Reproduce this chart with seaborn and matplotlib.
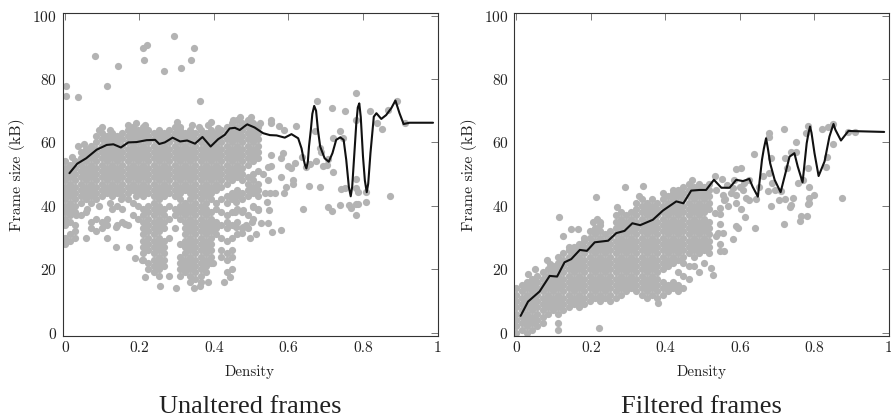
import matplotlib
matplotlib.use('Agg')
import matplotlib.pyplot as plt
import seaborn as sns
import pandas as pd

# densidade de cada coluna de pontos
col_density = [0.000, 0.014, 0.028, 0.042, 0.056, 0.070, 0.084, 0.098, 0.112, 0.126,
               0.140, 0.154, 0.168, 0.182, 0.196, 0.210, 0.224, 0.238, 0.252, 0.266,
               0.280, 0.294, 0.308, 0.322, 0.336, 0.350, 0.364, 0.378, 0.392, 0.406,
               0.420, 0.434, 0.448, 0.462, 0.476, 0.490, 0.504, 0.518]

unaltered_cols = [
    [54,52,50,48,46,44,42,40,38,36,34,30,28],
    [53,51,49,47,45,43,41,39,37,35,31,29],
    [54,52,50,48,46,44,42,40,38,34,32,30],
    [57,55,53,51,49,47,45,43,41,37],
    [58,56,54,52,50,48,46,44,42,38,30],
    [59,57,55,53,51,49,47,45,43,41,35,33],
    [62,60,58,56,54,52,50,48,46,44,42,36,32],
    [63,61,59,57,55,53,51,49,47,45,43,35,33],
    [62,60,58,56,54,52,50,48,46,44,36,34,30],
    [63,61,59,57,55,53,51,49,47,45,43,39],
    [62,60,58,56,54,52,50,48,46,44,40,34],
    [63,61,59,57,55,53,51,49,47,45,43,39,35],
    [64,62,60,58,56,54,52,50,48,46,44,34],
    [65,63,61,59,57,55,53,51,49,47,45,41,37],
    [64,62,60,58,56,54,52,50,48,46,44,40,36],
    [65,63,61,59,57,55,53,51,49,47,45,43,39,37,35,33,31,29,27,25,23],
    [64,62,60,58,56,54,52,50,48,46,44,40,38,36,34,32,30,28,26,22,20],
    [63,61,59,57,55,53,51,49,47,45,43,41,39,37,35,33,31,29,27,25,23,21,19],
    [64,62,60,58,56,54,52,50,48,46,44,42,40,38,36,34,32,30,28,26,24,22,20,18],
    [63,61,59,57,55,53,51,49,47,45,43,39,37,35,33,29,27,25,23,21],
    [64,62,60,58,56,54,52,50,48,46,44,40,36,30],
    [65,63,61,59,57,55,53,51,49,47,45,43,39,37,33],
    [64,62,60,58,56,54,52,50,48,46,44,42,40,38,36,28,24,22,20,18],
    [63,61,59,57,55,53,51,49,47,45,41,39,37,35,33,31,29,27,25,23,21,19],
    [64,62,60,58,56,54,52,50,48,46,44,42,40,38,36,34,32,30,28,26,24,22,20,18,16],
    [63,61,59,57,55,53,51,49,47,45,43,41,39,37,35,33,31,29,27,25,23,21,19,17],
    [64,62,60,58,56,54,52,50,48,46,44,42,40,38,36,34,32,30,28,26,24,22,20,18,16],
    [63,61,59,57,55,53,51,49,47,45,43,41,39,37,35,33,31,29,27,25,23,21,19],
    [64,62,60,58,56,54,52,50,48,46,44,42,38,36,34,32,30,28,26,24,22],
    [63,61,59,57,55,53,51,49,47,45,41,39,35,33,31],
    [64,62,60,58,56,54,52,50,48,46,42,38,34,30,26,24],
    [65,63,61,59,57,55,53,51,49,47,43,41,37,35,33,29,25,23,19],
    [66,64,62,60,58,56,54,52,50,48,44,42,38,34,30,26,24,20],
    [67,65,63,61,59,57,55,53,51,49,45,43,39,35,31],
    [66,64,62,60,58,56,54,52,50,48,44,42,38,33],
    [67,65,63,61,59,57,55,53,49,47,45,43,37,33],
    [66,64,62,60,58,56,54,50,48,46,44,40,36],
    [65,63,61,59,57,55,51,47,45,43,39],
]

unaltered_x = [.002,.002,.036,.081,.114,.142,.210,.221,.211,.267,.292,.311,.338,.345,.362,.392,
               .136,.173,.136,.161,.188,.208,.216,.255,.279,.298,.347,.362,.385,.398,.427,.443,
               .780,.677,.892,.717,.751,.818,.867,.780,.552,.552,.575,.621,.838,.912,.851,.739,
               .670,.587,.523,.719,.746,.684,.688,.635,.706,.675,.693,.703,.657,.720,.554,.554,
               .545,.585,.581,.599,.608,.617,.648,.579,.612,.612,.593,.588,.563,.550,.536,.654,
               .684,.780,.740,.751,.780,.786,.809,.873,.807,.782,.786,.762,.767,.737,.706,.718,
               .639,.780,.541,.548,.527,.545,.557,.581,.501,.487,.478,.512,.496,.474,.460,.456,
               .478,.518,.505,.460,.532,.545,
               .09,.10,.12,.17,.19,.215,.30,.31,.34,.36,.385,.41,.45,.50,.47,.035,.05,.02,
               .03,.06,.09,.12,.15,.17,.19]
unaltered_y = [77.7,74.7,74.2,87.2,77.9,84,89.8,90.8,86,82.6,93.5,83.4,86.1,89.8,73.1,66.4,
               27.1,27.1,33.4,34.4,23.4,22.9,17.6,14.7,18,14,14,14.7,16,22,16,17.6,
               75.7,73.1,72.9,71,69.9,70,70.2,67.1,67,66,65.3,65.2,66.2,66,64.2,63.7,
               63.7,63.9,66,61.3,61.3,58.1,57.1,55.5,54.7,54.2,52.6,52.9,53.2,50.8,56,52.6,
               52.4,56.6,55,52.6,51.8,53.4,52.4,49.2,48.1,46.9,46,43.9,43.9,43.9,43.9,46.3,
               46,48.4,45.3,45.5,45.5,44.5,44.3,43,41.1,40.6,40.6,40.3,39.4,40.3,39.7,38.5,
               39,37.1,41.3,38.7,34.7,34.5,31.8,32.4,35,34,33.4,31.1,30,31.3,33.4,38.2,
               38.7,38.7,39.7,41.3,49.9,48.1,
               64,65,64,65.5,66,65.5,66.5,65,65.5,65,65.5,64.5,67,68,68,59,59.5,55.5,
               37,39,40,41,42,42,43]

filtered_cols = [
    [14,12,10,8,6,4,2,0],
    [15,13,11,9,7,5,3,1],
    [16,14,12,10,8,6,4,2,0],
    [17,15,13,11,9,7,5,3,1],
    [18,16,14,12,10,8,6,4,2],
    [19,17,15,13,11,9,7,5,3],
    [20,18,16,14,12,10,8,6],
    [21,19,17,15,13,11,9,7],
    [24,22,20,18,16,14,12,10,8,6,3,1],
    [25,23,21,19,17,15,13,11,9,7],
    [26,24,22,20,18,16,14,12,10,8],
    [27,25,23,21,19,17,15,13,11,9],
    [28,26,24,22,20,18,16,14,12,10,8],
    [29,27,25,23,21,19,17,15,13,11,9],
    [32,30,28,26,24,22,20,18,16,14,12,10],
    [33,31,29,27,25,23,21,19,17,15,13,11],
    [34,32,30,28,26,24,22,20,18,16,14,12,10],
    [31,29,27,25,23,21,19,17,15,13,11],
    [32,30,28,26,24,22,20,18,16,14,12,10],
    [37,35,33,31,29,27,25,23,21,19,17,15,13,11],
    [38,36,34,32,30,28,26,24,22,20,18,16,14,12],
    [37,35,33,31,29,27,25,23,21,19,17,15,13],
    [38,36,34,32,30,28,26,24,22,20,18,16,14],
    [41,39,37,35,33,31,29,27,25,23,21,19,17,15,13],
    [42,40,38,36,34,32,30,28,26,24,22,20,18,16,14,12],
    [41,39,37,35,33,31,29,27,25,23,21,19,17,15,13,11],
    [42,40,38,36,34,32,30,28,26,24,22,20,18,16,14,12],
    [41,39,37,35,33,31,29,27,25,23,21,19,17,15,13,11],
    [44,42,40,38,36,34,32,30,28,26,24,22,20,16,14,12],
    [43,41,39,37,35,33,31,29,27,25,23,21,15,13],
    [44,42,40,38,36,34,32,30,28,26,24,22,16,14],
    [45,43,41,39,37,35,33,31,29,27,25,23,19,15,13],
    [46,44,42,40,38,36,34,32,30,28,26,24,22,18,14],
    [47,45,43,41,39,37,35,33,31,29,27,25,21,17],
    [46,44,42,40,38,36,34,32,30,28,26,24,21],
    [47,45,43,41,39,37,35,33,31,29,27,25,19],
    [46,44,42,40,38,36,34,32,30,28,26,22],
    [47,45,43,41,39,35,33,31,29,27,25],
]

filtered_x = [.114,.125,.146,.165,.213,.290,.339,.082,.221,.717,.782,.819,.837,.851,.891,.909,
              .679,.677,.777,.751,.851,.737,.749,.638,.721,.684,.834,.726,.782,.831,.590,.603,
              .661,.679,.755,.770,.686,.786,.675,.693,.710,.652,.798,.873,.786,.706,.720,.743,
              .684,.737,.735,.782,.786,.764,.780,.760,.718,.640,.614,.604,.568,.545,.532,.547,
              .547,.590,.594,.581,.554,.541,.536,.545,.558,.547,.521,.527,.532,.551,.585,.612,
              .625,.581,.554,.590,.617,.643,.608,.558,.590,.625,.565,.575,.600,.535,.560,
              .205,.215,.225,.27,.33,.42,.47,.03,.05,.09,.14,.18,.38]
filtered_y = [36.4,30.6,32.6,32.6,42.9,45.9,46.4,22.9,1.4,64.3,65.2,64.1,65,65.8,63.4,63.4,
              62.9,61.8,62.9,60.2,59.4,57.1,57.1,56.4,55.1,55,55.3,51.8,51.8,52.4,51.5,52,
              49.5,50.3,47.3,48.2,47.1,46,44.8,45,44.8,45.9,43.4,42.4,42.6,41.9,42.1,42.4,
              39.8,40.3,39.5,40.5,40.8,36.9,36.8,35.2,34.2,33,36.6,38.9,39.8,39.2,37.6,37.3,
              34.3,33.6,33.1,29.6,31.3,31.3,30.5,28,25.6,25.6,20.3,18.2,49.4,48.5,48.2,47.1,
              48.2,45.5,43.4,43.4,42.4,42.2,45,41.9,40.8,41.9,46.5,44,46,45,42,
              35,36,35,39.5,43,45,48,18.5,20,21.5,27,30,9.5]

unaltered_line_x = [.012,.033,.057,.085,.112,.13,.15,.17,.192,.219,.242,.253,.268,.289,.309,.328,
                    .349,.369,.391,.411,.429,.442,.456,.469,.489,.509,.532,.55,.568,.59,.608,.626,
                    .635,.641,.644,.648,.652,.655,.660,.664,.669,.674,.679,.685,.697,.708,.718,.728,.739,.748,.755,
                    .762,.767,.771,.778,.782,.786,.790,.794,.80,.805,.810,.814,.82,.829,.836,.849,.862,.876,.887,.898,.909,.925,.988]
unaltered_line_y = [50.3,53.3,55,57.7,59.2,59.4,58.4,60,60.1,60.7,60.8,59.5,60,61.5,60.3,60.6,
                    59.6,61.7,58.7,61,62.4,64.4,64.6,63.9,65.7,64.7,62.9,62.3,62.2,61.5,62.6,61.3,
                    58.1,54.5,53,51.8,54,58.7,64,69,71.5,70,64,58.7,55,53.9,56.6,60.8,61.6,60.8,54.5,
                    46,43,46,58.7,66,71,72.3,68,55.5,48,44.3,47,56.6,68.1,69.2,67.4,68.6,70.8,73.2,69.2,65.8,66.2,66.2]

filtered_line_x = [.011,.031,.062,.089,.109,.129,.147,.170,.189,.210,.246,.268,.290,.311,.332,.366,
                   .393,.429,.448,.469,.491,.509,.530,.55,.572,.59,.608,.625,.634,.648,.659,.664,.67,.675,
                   .681,.693,.709,.722,.733,.746,.755,.768,.779,.784,.788,.792,.80,.811,.827,.84,.846,.851,.856,.871,
                   .891,.987]
filtered_line_y = [5.3,9.8,13,17.9,17.7,22.2,23.2,26.1,25.8,28.5,29,31.4,32.1,34.5,33.9,35.6,
                   38.5,41.4,40.8,44.8,45,45,48.2,45.7,45.7,48.2,47.8,48.5,46,42.9,54.5,58,61.3,58,
                   53.4,48.2,44.3,50.3,55.5,56.6,52.4,47.4,59.7,63,65,63,56.6,49.4,54,61.8,64,65.8,64,60.6,
                   63.6,63.3]

x_ticks = [0, 0.2, 0.4, 0.6, 0.8, 1]
x_labels = ['0', '0.2', '0.4', '0.6', '0.8', '1']
y_ticks = [0, 20, 40, 60, 80, 100]


def monta_pontos(cols, extra_x, extra_y):
    linhas = [(d, y) for d, ys in zip(col_density, cols) for y in ys]
    linhas += list(zip(extra_x, extra_y))
    return pd.DataFrame(linhas, columns=['density', 'size'])


sns.set_theme(style='white')
plt.rcParams['font.family'] = ['cmr10', 'DejaVu Serif']
plt.rcParams['axes.formatter.use_mathtext'] = True

fig = plt.figure(figsize=(8.91, 4.17), dpi=100)
W, H = 891, 417

paineis = [
    (62.5, unaltered_cols, unaltered_x, unaltered_y, unaltered_line_x, unaltered_line_y, 'Unaltered frames'),
    (514.0, filtered_cols, filtered_x, filtered_y, filtered_line_x, filtered_line_y, 'Filtered frames'),
]

for left, cols, ex, ey, lx, ly, caption in paineis:
    ax = fig.add_axes([left / W, 1 - 335.7 / H, 375 / W, 322.7 / H])
    df = monta_pontos(cols, ex, ey)
    sns.scatterplot(data=df, x='density', y='size', color='#b3b3b3', s=27, linewidth=0, ax=ax, zorder=2)
    ax.collections[0].set_snap(False)
    linha = pd.DataFrame({'density': lx, 'size': ly})
    sns.lineplot(data=linha, x='density', y='size', color='#111111', linewidth=1.5, ax=ax, zorder=3,
                 estimator=None, sort=False)
    ax.set_xlim(-0.0067, 1)
    ax.set_ylim(-0.95, 100.8)
    ax.set_xticks(x_ticks)
    ax.set_xticklabels(x_labels)
    ax.set_yticks(y_ticks)
    ax.tick_params(direction='in', length=5, width=0.5, top=True, right=True, color='#444444',
                   labelsize=11.2, labelcolor='#222222', pad=4)
    for s in ax.spines.values():
        s.set_visible(True)
        s.set_linewidth(0.8)
        s.set_color('#333333')
    ax.set_xlabel('Density', fontsize=10.8, color='#222222', labelpad=7)
    ax.set_ylabel('Frame size (kB)', fontsize=11.5, color='#222222', labelpad=5)
    ax.text(0.5, (335.7 - 406.7) / 322.7, caption, transform=ax.transAxes, ha='center', va='center',
            fontsize=19, color='#222222', family='Liberation Serif')

plt.savefig('out.png', dpi=100)
